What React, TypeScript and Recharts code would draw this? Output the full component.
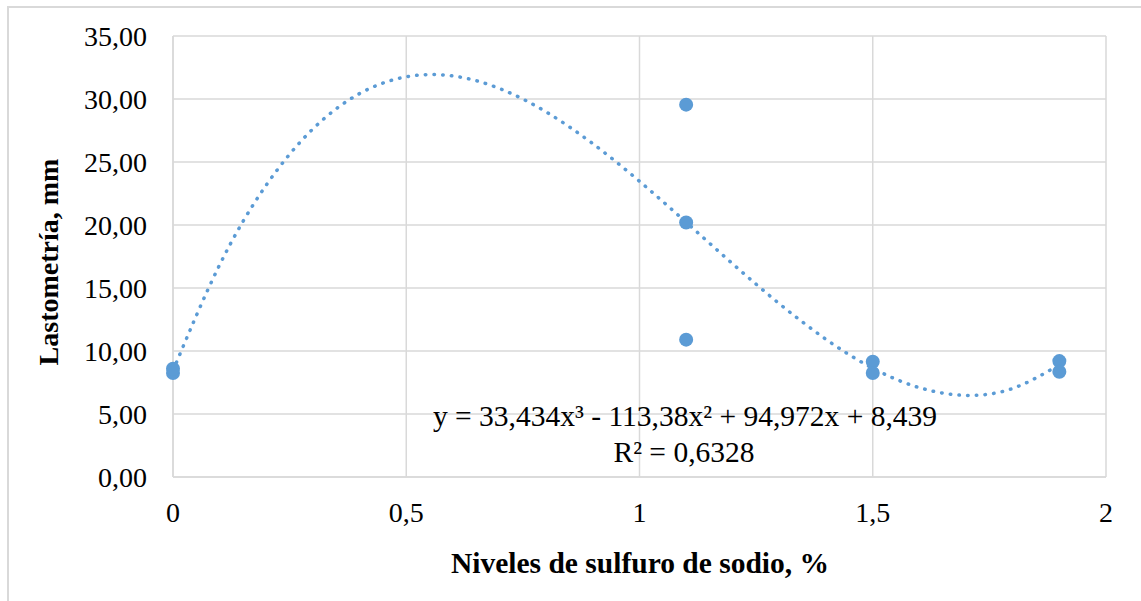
import {
  ComposedChart,
  Scatter,
  Line,
  XAxis,
  YAxis,
  CartesianGrid,
  Customized,
} from 'recharts';

// measured points
const levels = [0, 0, 1.1, 1.1, 1.1, 1.5, 1.5, 1.9, 1.9];
const lastometry = [8.25, 8.6, 29.55, 20.2, 10.9, 9.15, 8.25, 9.2, 8.35];

// polynomial trendline
const trendX = [0, 0.1, 0.2, 0.3, 0.4, 0.5, 0.6, 0.7, 0.8, 0.9, 1.0, 1.1, 1.2, 1.3, 1.4, 1.5, 1.6, 1.7, 1.8, 1.9];
const trendY = [8.44, 16.84, 23.17, 27.63, 30.43, 31.76, 31.83, 30.83, 28.97, 26.45, 23.47, 20.22, 16.91, 13.75, 10.92, 8.63, 7.09, 6.48, 7.03, 8.91];

const xTicks = [0, 0.5, 1, 1.5, 2];
const yTicks = [0, 5, 10, 15, 20, 25, 30, 35];

const equation = 'y = 33,434x³ - 113,38x² + 94,972x + 8,439';
const rSquared = 'R² = 0,6328';

const BLUE = '#5B9BD5';
const GRID = '#d9d9d9';
const FONT = '"Liberation Serif", "Times New Roman", serif';

const points = levels.map((x, i) => ({ x, y: lastometry[i] }));
const trend = trendX.map((x, i) => ({ x, y: trendY[i] }));

const comma = (v: number) => String(v).replace('.', ',');

export default function App() {
  return (
    <div style={{ position: 'absolute', left: 0, top: 0, width: 1141, height: 601, background: '#fff', overflow: 'hidden', fontFamily: FONT }}>
      <div style={{ position: 'absolute', left: 7, top: 6, width: 1200, height: 700, border: `2px solid ${GRID}`, boxSizing: 'border-box' }} />
      <ComposedChart
        width={1141}
        height={601}
        margin={{ top: 36, right: 35, bottom: 0, left: 0 }}
        style={{ position: 'absolute', left: 0, top: 0 }}
      >
        <CartesianGrid stroke={GRID} strokeWidth={1.5} />
        <XAxis
          dataKey="x"
          type="number"
          domain={[0, 2]}
          ticks={xTicks}
          tickFormatter={comma}
          tick={{ fill: '#000', fontSize: 28, fontFamily: FONT }}
          axisLine={{ stroke: GRID, strokeWidth: 1.5 }}
          tickLine={false}
          tickSize={0}
          tickMargin={25}
          height={124}
          allowDuplicatedCategory={false}
        />
        <YAxis
          dataKey="y"
          type="number"
          domain={[0, 35]}
          ticks={yTicks}
          tickFormatter={(v: number) => v.toFixed(2).replace('.', ',')}
          tick={{ fill: '#000', fontSize: 28, fontFamily: FONT }}
          axisLine={{ stroke: GRID, strokeWidth: 1.5 }}
          tickLine={false}
          tickSize={0}
          tickMargin={26}
          width={173}
        />
        <Line
          data={trend}
          dataKey="y"
          type="natural"
          stroke={BLUE}
          strokeWidth={3.5}
          strokeDasharray="0.5 8.2"
          strokeLinecap="round"
          dot={false}
          activeDot={false}
          isAnimationActive={false}
        />
        <Scatter
          data={points}
          dataKey="y"
          fill={BLUE}
          isAnimationActive={false}
          shape={(p: any) => <circle cx={p.cx} cy={p.cy} r={7} fill={BLUE} />}
        />
        <Customized
          component={() => (
            <g fontFamily={FONT} fill="#000">
              <text x={685} y={426} fontSize={29.5} textAnchor="middle">{equation}</text>
              <text x={684} y={462} fontSize={29.5} textAnchor="middle">{rSquared}</text>
              <text x={640} y={573} fontSize={29.5} fontWeight="bold" textAnchor="middle">
                Niveles de sulfuro de sodio, %
              </text>
              <text x={58} y={262} fontSize={28} fontWeight="bold" textAnchor="middle" transform="rotate(-90 58 262)">
                Lastometría, mm
              </text>
            </g>
          )}
        />
      </ComposedChart>
    </div>
  );
}
